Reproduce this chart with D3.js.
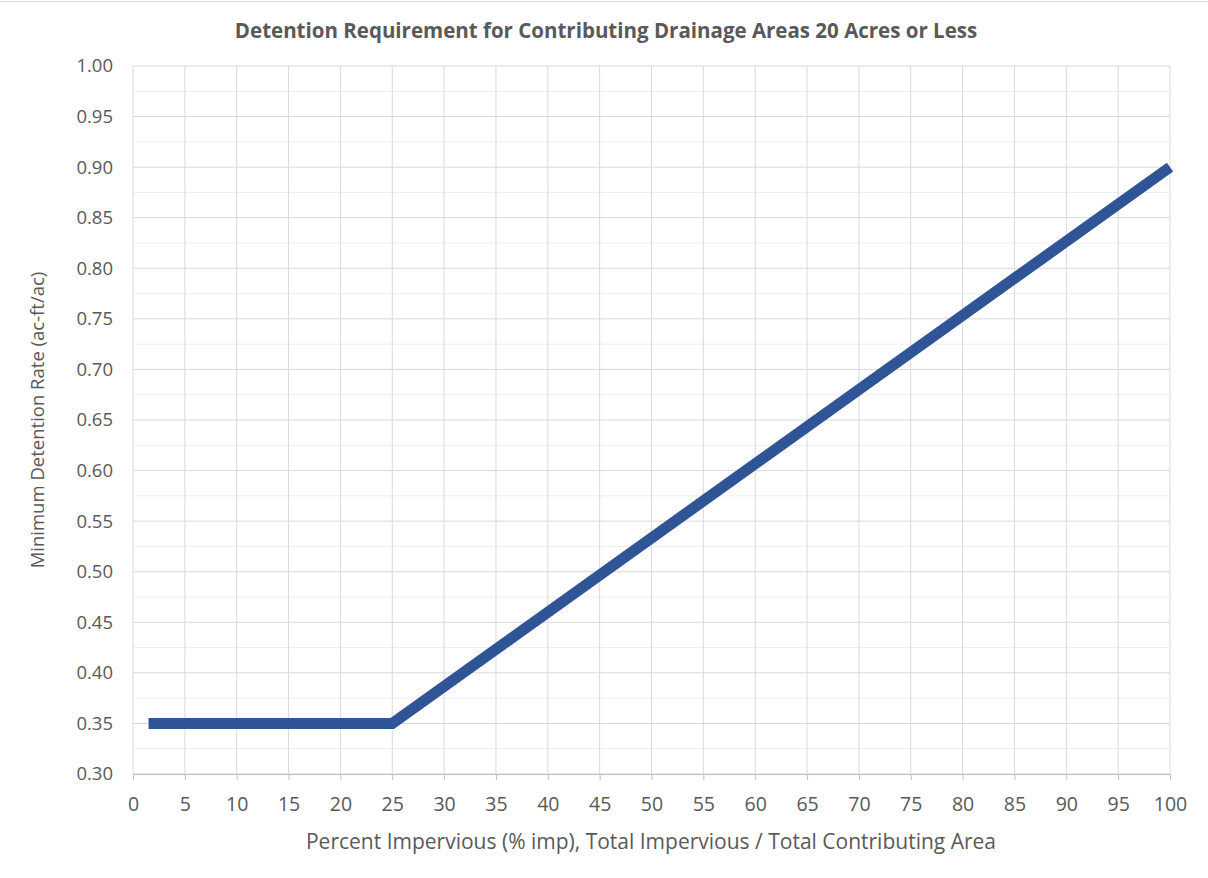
<!DOCTYPE html>
<html>
<head>
<meta charset="utf-8">
<script src="https://cdn.jsdelivr.net/npm/d3@7"></script>
<style>
  body { margin: 0; background: #fff; }
  text { font-family: 'Open Sans', 'Noto Sans', sans-serif; fill: #595959; }
</style>
</head>
<body>
<svg id="chart" width="1208" height="878"></svg>
<script>
// values
const impervious = [1.5, 25, 100];
const detentionRate = [0.35, 0.35, 0.90];
const xTicks = d3.range(0, 101, 5);
const yTicks = [0.30, 0.35, 0.40, 0.45, 0.50, 0.55, 0.60, 0.65, 0.70, 0.75, 0.80, 0.85, 0.90, 0.95, 1.00];
const yMinorTicks = d3.range(0, 14).map(i => 0.325 + i * 0.05);

const title = 'Detention Requirement for Contributing Drainage Areas 20 Acres or Less';
const xLabel = 'Percent Impervious (% imp), Total Impervious / Total Contributing Area';
const yLabel = 'Minimum Detention Rate (ac-ft/ac)';

const svg = d3.select('#chart');
const width = 1208, height = 878;
const margin = { top: 66, right: 38, bottom: 104, left: 133 };
const innerWidth = width - margin.left - margin.right;
const innerHeight = height - margin.top - margin.bottom;

// chart border (top edge shows in picture)
svg.append('line')
  .attr('x1', 0).attr('x2', width).attr('y1', 1.5).attr('y2', 1.5)
  .attr('stroke', '#d9d9d9').attr('stroke-width', 1);

const g = svg.append('g').attr('transform', `translate(${margin.left},${margin.top})`);

const x = d3.scaleLinear().domain([0, 100]).range([0, innerWidth]);
const y = d3.scaleLinear().domain([0.30, 1.00]).range([innerHeight, 0]);

// minor grid
g.append('g').selectAll('line').data(yMinorTicks).join('line')
  .attr('x1', 0).attr('x2', innerWidth)
  .attr('y1', d => y(d)).attr('y2', d => y(d))
  .attr('stroke', '#eeeeee').attr('stroke-width', 1);

// major grid
g.append('g').selectAll('line').data(yTicks).join('line')
  .attr('x1', 0).attr('x2', innerWidth)
  .attr('y1', d => y(d)).attr('y2', d => y(d))
  .attr('stroke', '#d9d9d9').attr('stroke-width', 1);

g.append('g').selectAll('line').data(xTicks).join('line')
  .attr('x1', d => x(d)).attr('x2', d => x(d))
  .attr('y1', 0).attr('y2', innerHeight)
  .attr('stroke', '#d9d9d9').attr('stroke-width', 1);

// x axis
const xAxis = g.append('g')
  .attr('transform', `translate(0,${innerHeight})`)
  .call(d3.axisBottom(x).tickValues(xTicks).tickSize(6).tickPadding(17).tickFormat(d3.format('d')));
xAxis.select('.domain').attr('stroke', '#bfbfbf');
xAxis.selectAll('.tick line').attr('stroke', '#bfbfbf');
xAxis.selectAll('.tick text').attr('font-size', 19.5).attr('fill', '#595959');

// y axis
const yAxis = g.append('g')
  .call(d3.axisLeft(y).tickValues(yTicks).tickSize(0).tickPadding(20).tickFormat(d3.format('.2f')));
yAxis.select('.domain').remove();
yAxis.selectAll('.tick text').attr('font-size', 18.5).attr('fill', '#595959');

// line
const line = d3.line()
  .x((d, i) => x(impervious[i]))
  .y(d => y(d));

g.append('path')
  .datum(detentionRate)
  .attr('d', line)
  .attr('fill', 'none')
  .attr('stroke', '#2f5597')
  .attr('stroke-width', 11)
  .attr('stroke-linejoin', 'miter');

// labels
svg.append('text')
  .attr('x', 606).attr('y', 38)
  .attr('text-anchor', 'middle')
  .attr('font-size', 20.5).attr('font-weight', 'bold')
  .text(title);

svg.append('text')
  .attr('x', 651).attr('y', 849)
  .attr('text-anchor', 'middle')
  .attr('font-size', 21)
  .text(xLabel);

svg.append('text')
  .attr('transform', `translate(44,${margin.top + innerHeight / 2}) rotate(-90)`)
  .attr('text-anchor', 'middle')
  .attr('font-size', 18.5)
  .text(yLabel);
</script>
</body>
</html>
